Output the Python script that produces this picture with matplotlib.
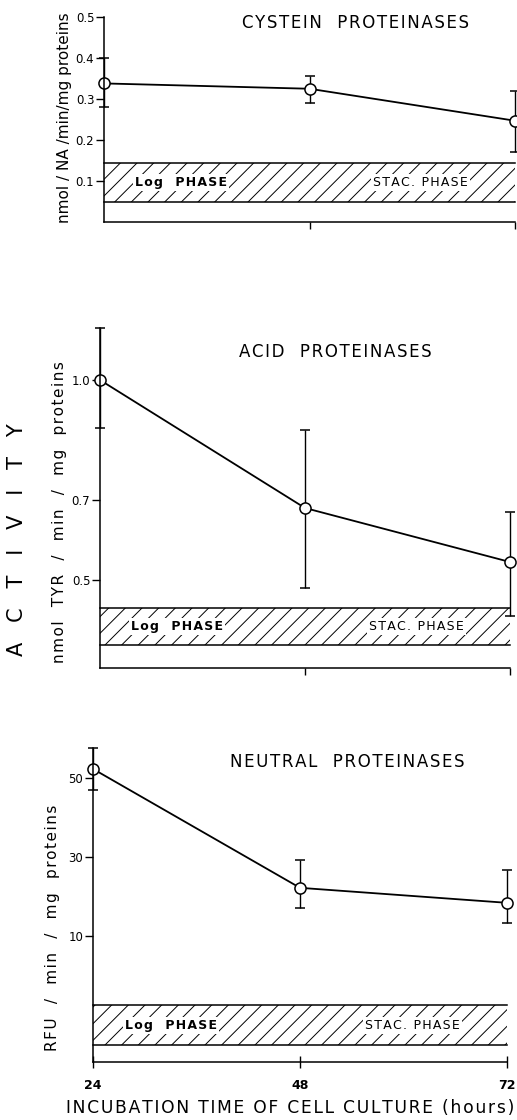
import numpy as np
import matplotlib
matplotlib.use("Agg")
import matplotlib.pyplot as plt
from matplotlib.patches import Rectangle

plt.rcParams['font.family'] = ['DejaVu Sans']
plt.rcParams['hatch.linewidth'] = 0.7

# data
hours = [24, 48, 72]

cys_mean = [0.338, 0.325, 0.247]
cys_low = [0.280, 0.290, 0.170]
cys_high = [0.400, 0.357, 0.320]

acid_mean = [1.00, 0.68, 0.545]
acid_low = [0.88, 0.48, 0.41]
acid_high = [1.13, 0.875, 0.67]

neut_mean = [52.3, 22.2, 18.4]
neut_low = [47.0, 17.2, 13.3]
neut_high = [57.6, 29.2, 26.6]

cys_ticks = [0.1, 0.2, 0.3, 0.4, 0.5]
acid_ticks = [0.5, 0.7, 1.0]
neut_ticks = [10, 30, 50]

W, H = 517, 1120
fig = plt.figure(figsize=(W / 100, H / 100), dpi=100)


def spaced(s):
    # mimic the wide letter spacing of the original lettering
    return '\u200a'.join(s)


def px_axes(left, right, top, bottom):
    return fig.add_axes([left / W, 1 - bottom / H, (right - left) / W, (bottom - top) / H])


def draw_panel(ax, mean, low, high, ylim, ticks, band, title, title_xy, show_x=False):
    mean = np.array(mean)
    yerr = [mean - np.array(low), np.array(high) - mean]
    cont = ax.errorbar(hours, mean, yerr=yerr, fmt='-o', color='black', lw=1.3,
                       mfc='white', mec='black', mew=1.1, ms=8,
                       elinewidth=1.0, capsize=3.5, capthick=1.0)
    for art in cont.get_children():
        art.set_clip_on(False)

    ax.set_xlim(24, 72)
    ax.set_ylim(*ylim)
    ax.set_yticks(ticks)
    ax.set_yticklabels([str(t) for t in ticks], fontsize=8.5)
    ax.tick_params(axis='y', direction='out', length=6, width=1, pad=1)
    if show_x:
        ax.set_xticks([24, 48, 72])
        ax.set_xticklabels(['24', '48', '72'], fontsize=9, fontweight='bold')
        ax.tick_params(axis='x', direction='inout', length=8, width=1, pad=8)
    else:
        ax.set_xticks([48, 72])
        ax.set_xticklabels([])
        ax.tick_params(axis='x', direction='out', length=5, width=1)
    for s in ['top', 'right']:
        ax.spines[s].set_visible(False)
    ax.spines['left'].set_linewidth(1.1)
    ax.spines['bottom'].set_linewidth(1.1)
    ax.patch.set_alpha(0)

    # growth phase band (schematic, axes fraction in y)
    y0, y1 = band
    tr = ax.get_xaxis_transform()
    ax.add_patch(Rectangle((24, y0), 48, y1 - y0, transform=tr, fill=False,
                           hatch='//', edgecolor='black', linewidth=0))
    ax.plot([24, 72], [y0, y0], transform=tr, color='black', lw=1.1, clip_on=False)
    ax.plot([24, 72], [y1, y1], transform=tr, color='black', lw=1.1, clip_on=False)
    ym = (y0 + y1) / 2
    box = dict(facecolor='white', edgecolor='none', pad=1.5)
    ax.text(33, ym, spaced('Log  PHASE'), transform=tr, ha='center', va='center',
            fontsize=9, fontweight='bold', bbox=box)
    ax.text(61, ym, spaced('STAC. PHASE'), transform=tr, ha='center', va='center',
            fontsize=9, bbox=box)

    fig.text(title_xy[0] / W, 1 - title_xy[1] / H, spaced(title), ha='center',
             va='center', fontsize=12)


ax1 = px_axes(104, 515, 17, 222)
draw_panel(ax1, cys_mean, cys_low, cys_high, (0, 0.5), cys_ticks, (0.098, 0.288),
           'CYSTEIN  PROTEINASES', (356, 23))

ax2 = px_axes(100, 510, 328, 668)
draw_panel(ax2, acid_mean, acid_low, acid_high, (0.28, 1.13), acid_ticks, (0.068, 0.176),
           'ACID  PROTEINASES', (335, 352))

ax3 = px_axes(93, 507, 748, 1062)
draw_panel(ax3, neut_mean, neut_low, neut_high, (-21.9, 57.6), neut_ticks, (0.054, 0.18),
           'NEUTRAL  PROTEINASES', (347, 762), show_x=True)

# y labels
fig.text(65 / W, 1 - 118 / H, 'nmol / NA /min/mg proteins', rotation=90,
         ha='center', va='center', fontsize=11)
fig.text(60 / W, 1 - 512 / H, spaced('nmol  TYR  /  min  /  mg  proteins'), rotation=90,
         ha='center', va='center', fontsize=11)
fig.text(53 / W, 1 - 928 / H, spaced('RFU  /  min  /  mg  proteins'), rotation=90,
         ha='center', va='center', fontsize=11)
fig.text(17 / W, 1 - 540 / H, 'A   C   T   I   V   I   T   Y', rotation=90,
         ha='center', va='center', fontsize=15)

fig.text(290 / W, 1 - 1108 / H, spaced('INCUBATION TIME OF CELL CULTURE (hours)'),
         ha='center', va='center', fontsize=12.3)

fig.savefig('out.png', dpi=100)
